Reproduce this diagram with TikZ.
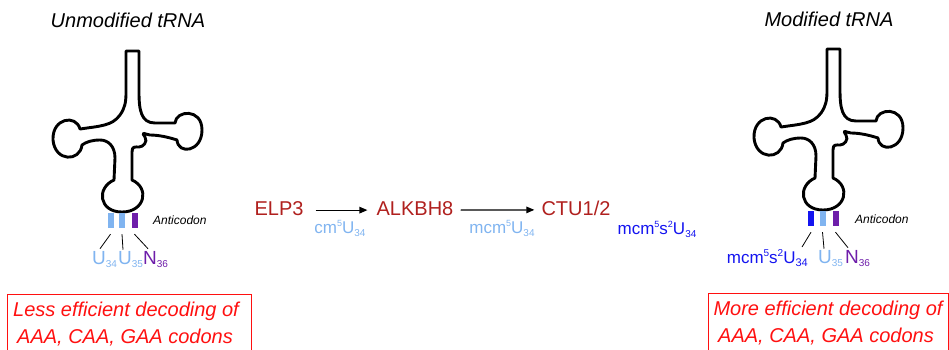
\documentclass[tikz,border=0pt]{standalone}
\usepackage{fontspec}
\setmainfont{Liberation Sans}
\usetikzlibrary{positioning,arrows.meta}
\definecolor{enzred}{HTML}{B0201E}
\definecolor{lightu}{HTML}{80B4F0}
\definecolor{modblue}{HTML}{1414F0}
\definecolor{npurple}{HTML}{6E1EAA}
\definecolor{boxred}{HTML}{FF1010}

% small raised / lowered indices
\newcommand{\subidx}[2][10]{\raisebox{-0.18em}{\fontsize{#1}{#1}\selectfont #2}}
\newcommand{\supidx}[2][10]{\raisebox{0.4em}{\fontsize{#1}{#1}\selectfont #2}}

% cloverleaf outline, pixel units
\newcommand{\trnabody}{%
\draw[trna] (126,51) -- (139,51) -- (139,92)
  .. controls (139,110) and (141,123) .. (155,123) -- (175,123)
  .. controls (176,110) and (202,108) .. (202,130)
  .. controls (202,152) and (178,155) .. (177,140)
  .. controls (168,137) and (158,135) .. (150,135)
  .. controls (144,134) and (141,131) .. (145,137)
  .. controls (148,142) and (143,147) .. (139,147)
  .. controls (135,147) and (132,146) .. (132,152) -- (132,180)
  .. controls (150,188) and (145,212) .. (122,212)
  .. controls (99,212) and (96,188) .. (114,180) -- (115,158)
  .. controls (115,146) and (108,140) .. (100,140)
  .. controls (92,140) and (86,142) .. (82,145)
  .. controls (80,162) and (55,162) .. (53,140)
  .. controls (52,118) and (76,114) .. (80,129)
  .. controls (100,126) and (112,126) .. (120,115)
  .. controls (125,108) and (126,102) .. (126,92) -- cycle;}

\begin{document}
\begin{tikzpicture}[x=1pt,y=-1pt,
  title/.style={font=\fontsize{20}{24}\selectfont\itshape, inner sep=0pt},
  enzyme/.style={font=\fontsize{20}{24}\selectfont, text=enzred, inner sep=0pt},
  midlabel/.style={font=\fontsize{17}{20}\selectfont, inner sep=0pt},
  nuc/.style={font=\fontsize{19}{23}\selectfont, inner sep=0pt},
  ac/.style={font=\fontsize{12}{14}\selectfont\itshape, inner sep=0pt},
  outcome/.style={font=\fontsize{20}{24}\selectfont\itshape, text=boxred, inner sep=0pt},
  bar/.style={minimum width=6pt, minimum height=15pt, inner sep=0pt},
  trna/.style={line width=2.9pt, line join=round},
  conv/.style={-{Triangle[length=8pt,width=6.5pt]}, line width=1.2pt},
  tick/.style={line width=0.8pt},
  redbox/.style={draw=boxred, line width=1pt}]
\useasboundingbox (0,0) rectangle (949,349);

% unmodified tRNA
\node[title, anchor=base] (untitle) at (128,27) {Unmodified tRNA};
\trnabody
\node[bar, fill=lightu] (b34) at (110.5,220.5) {};
\node[bar, fill=lightu] (b35) at (122,220.5) {};
\node[bar, fill=npurple] (b36) at (134.5,220.5) {};
\node[ac, anchor=base west] (acl) at (153,224) {Anticodon};
\node[nuc, text=lightu, anchor=base west] (u34) at (92,264) {U\subidx{34}};
\node[nuc, text=lightu, anchor=base west] (u35) at (118,264) {U\subidx{35}};
\node[nuc, text=npurple, anchor=base west] (n36) at (143,264) {N\subidx{36}};
\draw[tick] ([yshift=-6pt]b34.south) -- ([xshift=8pt,yshift=2pt]u34.north west);
\draw[tick] ([yshift=-6pt]b35.south) -- ([xshift=5pt,yshift=1pt]u35.north west);
\draw[tick] ([yshift=-6pt]b36.south) -- ([xshift=5pt,yshift=2pt]n36.north west);

% pathway
\node[enzyme, anchor=base] (elp3) at (279,215) {ELP3};
\node[enzyme, anchor=base] (alkbh8) at (415,215) {ALKBH8};
\node[enzyme, anchor=base] (ctu) at (576,215) {CTU1/2};
\draw[conv, shorten <=12pt, shorten >=9pt] ([yshift=-2pt]elp3.east) -- ([yshift=-2pt]alkbh8.west);
\draw[conv, shorten <=7pt, shorten >=7pt] ([yshift=-2pt]alkbh8.east) -- ([yshift=-2pt]ctu.west);
\node[midlabel, text=lightu, anchor=base] (cm5u) at (340,233) {cm\supidx[9]{5}U\subidx[10]{34}};
\node[midlabel, text=lightu, anchor=base] (mcm5u) at (502,233) {mcm\supidx[9]{5}U\subidx[10]{34}};
\node[midlabel, text=modblue, anchor=base] (mcm5s2u) at (657,234) {mcm\supidx[9]{5}s\supidx[9]{2}U\subidx[10]{34}};

% modified tRNA
\node[title, anchor=base] (modtitle) at (829,26) {Modified tRNA};
\begin{scope}[shift={(701,-2)}]
\trnabody
\end{scope}
\node[bar, fill=modblue] (m34) at (811,218.5) {};
\node[bar, fill=lightu] (m35) at (822.5,218.5) {};
\node[bar, fill=npurple] (m36) at (835.5,218.5) {};
\node[ac, anchor=base west] (acr) at (855,223) {Anticodon};
\node[midlabel, text=modblue, anchor=base east] (mu34) at (808,263) {mcm\supidx[10]{5}s\supidx[10]{2}U\subidx[11]{34}};
\node[nuc, text=lightu, anchor=base west] (mu35) at (818,263) {U\subidx{35}};
\node[nuc, text=npurple, anchor=base west] (mn36) at (845,263) {N\subidx{36}};
\draw[tick] ([yshift=-6pt]m34.south) -- ([xshift=-6pt,yshift=2pt]mu34.north east);
\draw[tick] ([yshift=-6pt]m35.south) -- ([xshift=6pt,yshift=1pt]mu35.north west);
\draw[tick] ([yshift=-6pt]m36.south) -- ([xshift=3pt,yshift=2pt]mn36.north west);

% outcome boxes
\draw[redbox] (7,352) -- (7,294) -- (251,294) -- (251,352);
\node[outcome, anchor=base] (less1) at (126,316) {Less efficient decoding of};
\node[outcome, anchor=base] (less2) at (125,343) {AAA, CAA, GAA codons};
\draw[redbox] (708,352) -- (708,293) -- (948,293) -- (948,352);
\node[outcome, anchor=base] (more1) at (828,315) {More efficient decoding of};
\node[outcome, anchor=base] (more2) at (826,342) {AAA, CAA, GAA codons};
\end{tikzpicture}
\end{document}
